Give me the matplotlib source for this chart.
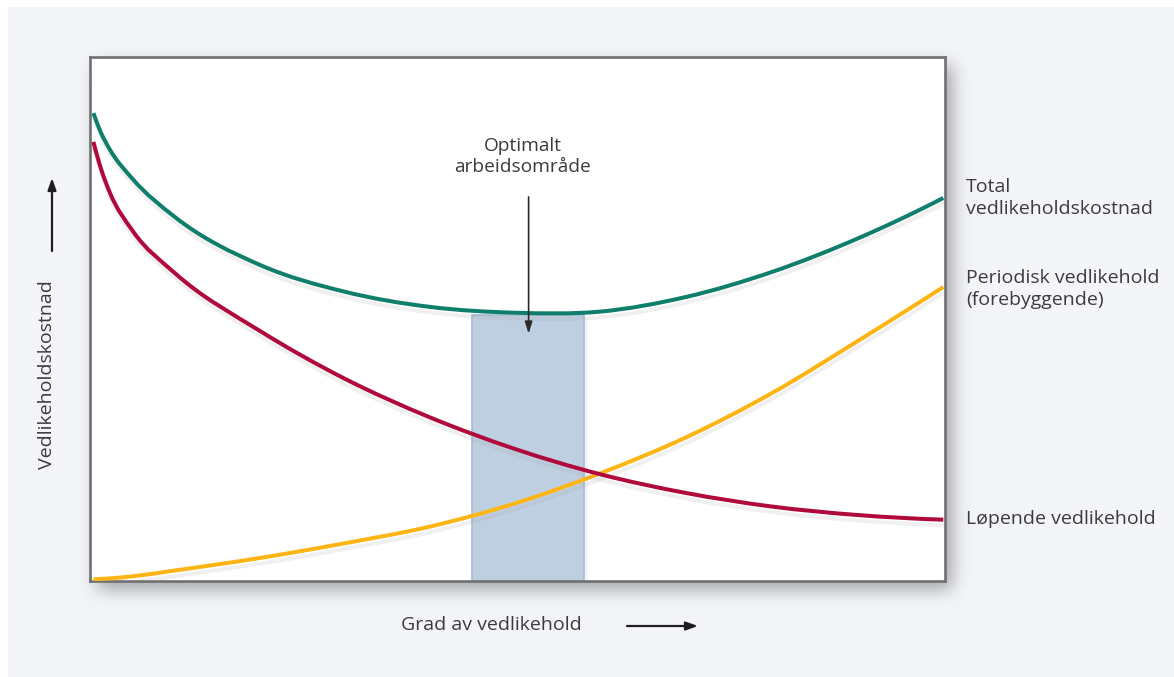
import numpy as np
import matplotlib
matplotlib.use("Agg")
import matplotlib.pyplot as plt
from matplotlib.path import Path
from matplotlib.patches import PathPatch, Rectangle
import matplotlib.patheffects as pe

# --- data -------------------------------------------------------------
grad = [0.4, 1.3, 2.3, 5.0, 9.9, 19.9, 29.8, 39.8, 49.7, 59.6, 69.7, 79.8, 89.7, 99.8]
total = [89.3, 85.5, 82.4, 76.7, 69.5, 60.3, 55.2, 52.3, 51.2, 51.4, 54.2, 59.0, 65.3, 73.1]
lopende = [83.8, 78.6, 74.2, 66.8, 58.8, 47.7, 38.6, 31.2, 25.2, 20.4, 16.8, 14.2, 12.6, 11.7]
periodisk = [0.3, 0.4, 0.5, 0.9, 2.0, 4.4, 7.2, 10.4, 14.8, 20.5, 27.4, 35.9, 45.7, 56.1]

optimal_range = [44.7, 57.8]
optimal_top = 50.8

series_labels = ["Total\nvedlikeholdskostnad",
                 "Periodisk vedlikehold\n(forebyggende)",
                 "Løpende vedlikehold"]
x_label = "Grad av vedlikehold"
y_label = "Vedlikeholdskostnad"
optimal_label = "Optimalt\narbeidsområde"

GREEN = "#0f7f6b"
RED = "#b00a3c"
YELLOW = "#fdb515"
TEXT = "#3b3b3b"
PANEL = np.array([243, 245, 249]) / 255.0

plt.rcParams["font.family"] = ["Open Sans", "DejaVu Sans"]

W, H = 1174, 677
DPI = 100
fig = plt.figure(figsize=(W / DPI, H / DPI), dpi=DPI)
fig.patch.set_facecolor("white")

# axes box in pixels (top-left origin)
L, R, T, B = 90, 945, 57, 581

# --- background panel with soft drop shadow around the plot box -------
bg = np.ones((H, W, 3)) * PANEL
mask = np.zeros((H, W))
dx, dy = 7, 8
mask[T + dy:B + dy, L + dx:R + dx] = 1.0
sigma = 9.0
k = np.arange(-30, 31)
kern = np.exp(-0.5 * (k / sigma) ** 2)
kern /= kern.sum()
blur = np.apply_along_axis(lambda r: np.convolve(r, kern, mode="same"), 1, mask)
blur = np.apply_along_axis(lambda c: np.convolve(c, kern, mode="same"), 0, blur)
bg = bg * (1 - 0.34 * blur[..., None])
bg[:7, :, :] = 1.0
bg[:, :8, :] = 1.0
fig.figimage(bg, 0, 0, origin="upper", zorder=-10)

ax = fig.add_axes([L / W, (H - B) / H, (R - L) / W, (B - T) / H])
ax.set_xlim(0, 100)
ax.set_ylim(0, 100)
ax.set_facecolor("white")
ax.set_xticks([])
ax.set_yticks([])
for sp in ax.spines.values():
    sp.set_color("#707070")
    sp.set_linewidth(1.9)


def smooth_path(x, y):
    """Piecewise cubic Hermite curve through the points, as Bezier segments."""
    x = np.asarray(x, float)
    y = np.asarray(y, float)
    h = np.diff(x)
    d = np.diff(y) / h
    m = np.empty_like(y)
    m[1:-1] = (h[:-1] * d[1:] + h[1:] * d[:-1]) / (h[:-1] + h[1:])
    m[0] = ((2 * h[0] + h[1]) * d[0] - h[0] * d[1]) / (h[0] + h[1])
    m[-1] = ((2 * h[-1] + h[-2]) * d[-1] - h[-1] * d[-2]) / (h[-1] + h[-2])
    verts = [(x[0], y[0])]
    codes = [Path.MOVETO]
    for i in range(len(x) - 1):
        verts += [(x[i] + h[i] / 3, y[i] + m[i] * h[i] / 3),
                  (x[i + 1] - h[i] / 3, y[i + 1] - m[i + 1] * h[i] / 3),
                  (x[i + 1], y[i + 1])]
        codes += [Path.CURVE4] * 3
    return Path(verts, codes)


# optimal working range
band = Rectangle((optimal_range[0], 0), optimal_range[1] - optimal_range[0], optimal_top,
                 facecolor="#bfcfe2", edgecolor="#a7bbd5", linewidth=1.2, zorder=2,
                 path_effects=[pe.SimplePatchShadow(offset=(3, -2), shadow_rgbFace="#b0b4ba",
                                                   alpha=0.12), pe.Normal()])
ax.add_patch(band)

shadow = [pe.SimpleLineShadow(offset=(0.5, -4), shadow_color="#9a9a9a", alpha=0.14, rho=1),
          pe.Normal()]
for ys, col in [(periodisk, YELLOW), (lopende, RED), (total, GREEN)]:
    patch = PathPatch(smooth_path(grad, ys), facecolor="none", edgecolor=col,
                      linewidth=2.9, capstyle="butt", zorder=3, path_effects=shadow)
    ax.add_patch(patch)

# arrow pointing to the optimum
ax.annotate("", xy=(51.3, 47.2), xytext=(51.3, 73.3),
            arrowprops=dict(arrowstyle="-|>,head_length=0.7,head_width=0.22",
                            color="#2b2b2b", lw=1.2, shrinkA=0, shrinkB=0), zorder=4)
ax.text(50.6, 81.0, optimal_label, ha="center", va="center", fontsize=13.8,
        color=TEXT, linespacing=1.2, zorder=4)

# --- labels outside the box, placed on a full-figure overlay ----------
ov = fig.add_axes([0, 0, 1, 1], facecolor="none")
ov.set_xlim(0, W)
ov.set_ylim(H, 0)
ov.axis("off")

ov.text(966, 198, series_labels[0], ha="left", va="center", fontsize=14,
        color=TEXT, linespacing=1.25)
ov.text(966, 289, series_labels[1], ha="left", va="center", fontsize=14,
        color=TEXT, linespacing=1.25)
ov.text(966, 519, series_labels[2], ha="left", va="center", fontsize=14,
        color=TEXT)

ov.text(491, 625, x_label, ha="center", va="center", fontsize=14, color=TEXT)
ov.annotate("", xy=(698, 626), xytext=(627, 626),
            arrowprops=dict(arrowstyle="-|>,head_length=0.7,head_width=0.25",
                            color="#1e1e1e", lw=1.6, shrinkA=0, shrinkB=0))

ov.text(47, 375, y_label, ha="center", va="center", rotation=90, fontsize=14, color=TEXT)
ov.annotate("", xy=(52, 178), xytext=(52, 251),
            arrowprops=dict(arrowstyle="-|>,head_length=0.7,head_width=0.25",
                            color="#1e1e1e", lw=1.6, shrinkA=0, shrinkB=0))

fig.savefig("out.png", dpi=DPI)
